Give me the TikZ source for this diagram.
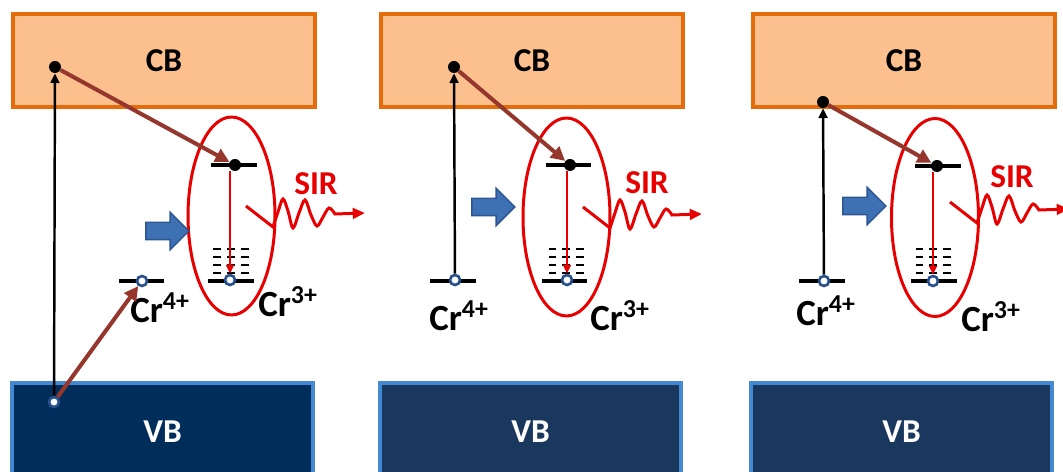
\documentclass[tikz,border=0pt]{standalone}
\usepackage{fontspec}
\setmainfont{Carlito}
\usetikzlibrary{shapes.geometric, shapes.arrows, arrows.meta, calc}
\definecolor{cbfill}{RGB}{251, 192, 142}
\definecolor{cbedge}{RGB}{228, 108, 10}
\definecolor{vbdark}{RGB}{0, 45, 90}
\definecolor{vbfill}{RGB}{26, 55, 94}
\definecolor{vbedge}{RGB}{68, 138, 210}
\definecolor{pushblue}{RGB}{62, 112, 180}
\definecolor{pushedge}{RGB}{45, 85, 145}
\definecolor{brownarr}{RGB}{150, 55, 45}
\definecolor{sirred}{RGB}{232, 0, 0}
\definecolor{holeblue}{RGB}{40, 80, 140}

\begin{document}
\begin{tikzpicture}[
    x=0.02cm, y=-0.02cm,
    every node/.style={font=\bfseries},
    cbband/.style={
        rectangle,
        draw=cbedge,
        line width=2pt,
        fill=cbfill,
        minimum width=6.04cm,
        minimum height=1.86cm,
        font=\bfseries\fontsize{19}{23}\selectfont
    },
    vbband/.style={
        rectangle,
        draw=vbedge,
        line width=2pt,
        fill=vbfill,
        text=white,
        minimum width=6.02cm,
        minimum height=1.94cm,
        font=\bfseries\fontsize{19}{23}\selectfont
    },
    ion/.style={
        ellipse,
        draw=sirred,
        line width=1.7pt,
        minimum width=1.74cm,
        minimum height=3.96cm
    },
    level/.style={
        rectangle,
        fill=black,
        inner sep=0pt,
        minimum width=0.92cm,
        minimum height=0.08cm
    },
    sublevel/.style={line width=0.9pt, dash pattern=on 4.5pt off 3.4pt},
    electron/.style={circle, fill=black, inner sep=0pt, minimum size=0.24cm},
    hole/.style={
        circle,
        draw=holeblue,
        line width=1.5pt,
        fill=white,
        inner sep=0pt,
        minimum size=0.2cm
    },
    ionlabel/.style={font=\bfseries\fontsize{21}{25}\selectfont},
    sirlabel/.style={text=sirred, font=\bfseries\fontsize{19}{23}\selectfont},
    push/.style={
        single arrow,
        draw=pushedge,
        line width=0.8pt,
        fill=pushblue,
        inner sep=0.16cm,
        minimum height=0.86cm,
        single arrow head extend=0.2cm
    },
    excite/.style={line width=1.4pt, -{Triangle[length=5.5pt, width=5pt]}},
    transfer/.style={draw=brownarr, line width=2.3pt, -{Triangle[length=8pt, width=8pt]}},
    decay/.style={draw=sirred, line width=1.2pt, -{Triangle[length=5pt, width=4.5pt]}},
    pics/sirwave/.style={code={
        \draw[sirred, line width=1.7pt, -{Triangle[length=7pt, width=6pt]}]
            (-27,-21) -- (0,0)
            -- plot[smooth, tension=0.55] coordinates {
                (0,0) (5,-15) (10,-28) (15,-16) (20,1) (26,-14) (32,-27)
                (38,-12) (44,-1) (50,-10) (56,-19) (62,-13)}
            -- (92,-14);
    }}
]
\clip (0,0) rectangle (1063,472);

% ==================== PANEL 1: VB -> CB and VB -> Cr4+ ====================
\node (cb1) [cbband] at (164,60.5) {CB};
\node (vb1) [vbband, fill=vbdark] at (162.5,431.5) {VB};
\node (ion1) [ion] at (231.5,216) {};
\node (up1) [level] at (234,165) {};
\node (gs1) [level] at (231,281) {};
\foreach \dy in {8,16,24,32}
    \draw[sublevel] ($(gs1)+(-18,-\dy)$) -- ++(36,0);
\node (lv4a) [level] at (141.5,281) {};
\node (e1) [electron] at (55,67) {};
\node (h1) [hole] at (54,402) {};
\node (h4a) [hole] at (142,281) {};
\node (eup1) [electron] at (235,165) {};
\node (hgs1) [hole] at (230,280) {};
\node (cr4a) [ionlabel] at (160,308) {Cr\textsuperscript{4+}};
\node (cr3a) [ionlabel] at (288,302) {Cr\textsuperscript{3+}};
\node (sir1) [sirlabel] at (316,184) {SIR};
\node (push1) [push] at (163,231) {};
\pic at (273,227) {sirwave};

\draw[excite] (h1) -- (e1);
\draw[transfer] (h1) -- (h4a);
\draw[transfer] (e1) -- (eup1);
\draw[decay] (hgs1 |- eup1.south) -- (hgs1);

% ==================== PANEL 2: Cr4+ -> CB ====================
\node (cb2) [cbband] at (532,60.5) {CB};
\node (vb2) [vbband] at (530.5,431.5) {VB};
\node (ion2) [ion] at (566.5,217) {};
\node (up2) [level] at (568.5,165) {};
\node (gs2) [level] at (564.5,281) {};
\foreach \dy in {8,16,24,32}
    \draw[sublevel] ($(gs2)+(-16,-\dy)$) -- ++(36,0);
\node (lv4b) [level] at (453,281) {};
\node (e2) [electron] at (454,67) {};
\node (h4b) [hole] at (455,280) {};
\node (eup2) [electron] at (570,165) {};
\node (hgs2) [hole] at (567,280) {};
\node (cr4b) [ionlabel] at (459,316) {Cr\textsuperscript{4+}};
\node (cr3b) [ionlabel] at (620,316) {Cr\textsuperscript{3+}};
\node (sir2) [sirlabel] at (647,183) {SIR};
\node (push2) [push] at (489,207) {};
\pic at (610,228) {sirwave};

\draw[excite] (h4b) -- (e2);
\draw[transfer] (e2) -- (eup2);
\draw[decay] (hgs2 |- eup2.south) -- (hgs2);

% ==================== PANEL 3: Cr4+ -> CB edge ====================
\node (cb3) [cbband] at (904,60.5) {CB};
\node (vb3) [vbband] at (901.5,431.5) {VB};
\node (ion3) [ion] at (935,217.5) {};
\node (up3) [level] at (937.5,166) {};
\node (gs3) [level] at (933.5,281) {};
\foreach \dy in {8,16,24,32}
    \draw[sublevel] ($(gs3)+(-18,-\dy)$) -- ++(36,0);
\node (lv4c) [level] at (822,281) {};
\node (e3) [electron] at (823,102) {};
\node (h4c) [hole] at (824,281) {};
\node (eup3) [electron] at (937,166) {};
\node (hgs3) [hole] at (933,281) {};
\node (cr4c) [ionlabel] at (826,311) {Cr\textsuperscript{4+}};
\node (cr3c) [ionlabel] at (991,317) {Cr\textsuperscript{3+}};
\node (sir3) [sirlabel] at (1012,177) {SIR};
\node (push3) [push] at (860,206) {};
\pic at (977,223) {sirwave};

\draw[excite] (h4c) -- (e3);
\draw[transfer] (e3) -- (eup3);
\draw[decay] (hgs3 |- eup3.south) -- (hgs3);

\end{tikzpicture}
\end{document}
